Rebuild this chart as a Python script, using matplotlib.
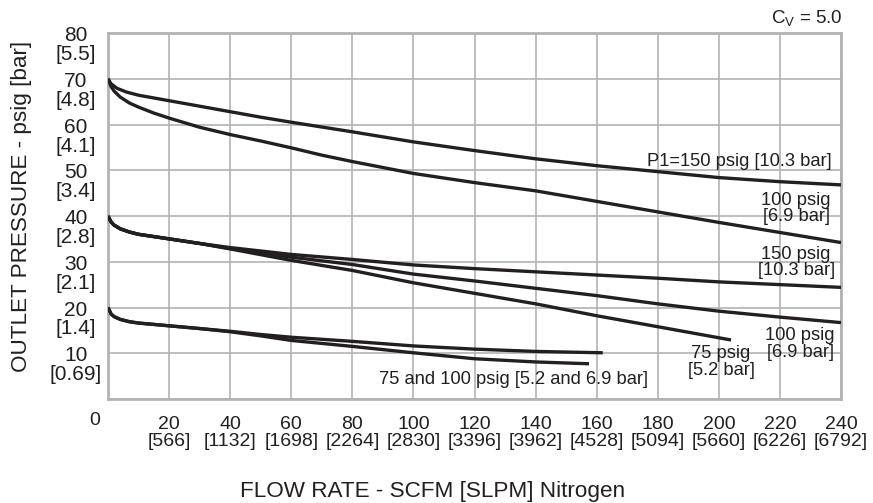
import matplotlib
matplotlib.use("Agg")
import matplotlib.pyplot as plt
import matplotlib.transforms as mtransforms

plt.rcParams["font.family"] = ["Liberation Sans", "DejaVu Sans"]
plt.rcParams["mathtext.default"] = "regular"

INK = "#231f20"
GRID = "#b1b3b6"

# Flow (SCFM) / outlet pressure (psig)
X_150_HI = [0, 1, 3, 6, 10, 20, 30, 40, 50, 60, 80, 100, 120, 140, 160, 180, 200, 220, 240]
Y_150_HI = [70, 68.9, 67.9, 67.1, 66.4, 65.2, 64.0, 62.8, 61.6, 60.5, 58.4, 56.2, 54.3, 52.5, 51.0, 49.7, 48.4, 47.5, 46.8]

X_100_HI = [0, 1, 2, 4, 7, 10, 15, 20, 30, 40, 50, 60, 70, 80, 100, 120, 140, 160, 180, 200, 220, 240]
Y_100_HI = [70, 68.3, 67.3, 66.0, 64.7, 63.8, 62.5, 61.4, 59.4, 57.8, 56.4, 54.9, 53.3, 51.9, 49.3, 47.3, 45.5, 43.2, 40.9, 38.6, 36.4, 34.2]

X_150_MID = [0, 1, 2, 4, 7, 10, 15, 20, 30, 40, 60, 80, 100, 120, 140, 160, 180, 200, 220, 240]
Y_150_MID = [40, 38.7, 38.0, 37.2, 36.5, 36.0, 35.5, 35.0, 34.0, 33.1, 31.6, 30.5, 29.3, 28.5, 27.8, 27.1, 26.4, 25.6, 25.0, 24.4]

X_100_MID = [0, 1, 2, 4, 7, 10, 15, 20, 30, 40, 60, 80, 100, 120, 140, 160, 180, 200, 220, 240]
Y_100_MID = [40, 38.7, 38.0, 37.2, 36.5, 36.0, 35.5, 35.0, 34.0, 32.9, 31.0, 29.4, 27.3, 25.8, 24.2, 22.6, 20.8, 19.2, 17.9, 16.7]

X_75_MID = [0, 1, 2, 4, 7, 10, 15, 20, 30, 40, 60, 80, 100, 120, 140, 160, 180, 204]
Y_75_MID = [40, 38.7, 38.0, 37.2, 36.5, 36.0, 35.5, 35.0, 34.0, 32.8, 30.3, 28.1, 25.4, 23.1, 20.8, 18.2, 15.8, 12.9]

X_LOW_A = [0, 1, 2, 4, 7, 10, 15, 20, 30, 40, 50, 60, 80, 100, 120, 140, 162]
Y_LOW_A = [20, 18.6, 18.0, 17.4, 16.9, 16.6, 16.3, 16.0, 15.4, 14.8, 14.1, 13.5, 12.6, 11.6, 10.9, 10.4, 10.1]

X_LOW_B = [0, 1, 2, 4, 7, 10, 15, 20, 30, 40, 50, 60, 80, 100, 120, 140, 157.5]
Y_LOW_B = [20, 18.6, 18.0, 17.4, 16.9, 16.6, 16.3, 16.0, 15.4, 14.7, 13.8, 12.8, 11.5, 10.1, 8.8, 8.1, 7.7]

# axis ticks
X_TICKS = [20, 40, 60, 80, 100, 120, 140, 160, 180, 200, 220, 240]
X_SLPM = [566, 1132, 1698, 2264, 2830, 3396, 3962, 4528, 5094, 5660, 6226, 6792]
Y_TICKS = [10, 20, 30, 40, 50, 60, 70, 80]
Y_BAR = ["0.69", "1.4", "2.1", "2.8", "3.4", "4.1", "4.8", "5.5"]

fig = plt.figure(figsize=(8.73, 5.03), dpi=100)
ax = fig.add_axes([108 / 873, 1 - 399 / 503, 733 / 873, 366 / 503])

for xs, ys in [(X_150_HI, Y_150_HI), (X_100_HI, Y_100_HI),
               (X_150_MID, Y_150_MID), (X_100_MID, Y_100_MID), (X_75_MID, Y_75_MID),
               (X_LOW_A, Y_LOW_A), (X_LOW_B, Y_LOW_B)]:
    ax.plot(xs, ys, color=INK, lw=2.4, solid_capstyle="butt", solid_joinstyle="round", zorder=3)

ax.set_xlim(0, 240)
ax.set_ylim(0, 80)
ax.set_xticks(X_TICKS, [f"{t}\n[{s}]" for t, s in zip(X_TICKS, X_SLPM)],
              fontsize=14, color=INK, linespacing=1.0)
ax.set_yticks([0] + Y_TICKS)
ax.tick_params(axis="both", length=0)
ax.tick_params(axis="x", pad=12)
ax.tick_params(axis="y", labelleft=False)
ax.grid(True, color=GRID, lw=1.2, zorder=1)
for sp in ax.spines.values():
    sp.set_color(GRID)
    sp.set_linewidth(2.0)

# y tick labels: number centred on the grid line, bar value below
shift = mtransforms.ScaledTranslation(0, -12 / 100, fig.dpi_scale_trans)
ytrans = mtransforms.blended_transform_factory(ax.transAxes, ax.transData) + shift
for v, b in zip(Y_TICKS, Y_BAR):
    ax.text(-0.0437, v, f"{v}\n[{b}]", transform=ytrans, ha="center", va="center",
            fontsize=15, color=INK, linespacing=1.0)
ax.text(-0.0177, -0.058, "0", transform=ax.transAxes, ha="center", va="center",
        fontsize=14, color=INK)

# curve labels
lab = dict(color=INK, fontsize=13.2, linespacing=0.95, zorder=4)
ax.text(237.0, 52.0, "P1=150 psig [10.3 bar]", ha="right", va="center", **lab)
ax.text(225.3, 41.7, "100 psig\n[6.9 bar]", ha="center", va="center", **lab)
ax.text(225.3, 29.9, "150 psig\n[10.3 bar]", ha="center", va="center", **lab)
ax.text(226.6, 12.0, "100 psig\n[6.9 bar]", ha="center", va="center", **lab)
ax.text(200.7, 8.1, "75 psig\n[5.2 bar]", ha="center", va="center", **lab)
ax.text(132.9, 4.2, "75 and 100 psig [5.2 and 6.9 bar]", ha="center", va="center", **lab)

fig.text(843 / 873, 1 - 23 / 503, r"C$_{V}$ = 5.0", ha="right", va="baseline",
         fontsize=13.5, color=INK)
fig.text(22 / 873, 1 - 206 / 503, "OUTLET PRESSURE - psig [bar]", rotation=90,
         ha="center", va="center", fontsize=16.2, color=INK)
fig.text(433 / 873, 1 - 492 / 503, "FLOW RATE - SCFM [SLPM] Nitrogen",
         ha="center", va="center", fontsize=16.2, color=INK)

fig.savefig("out.png", dpi=100)
